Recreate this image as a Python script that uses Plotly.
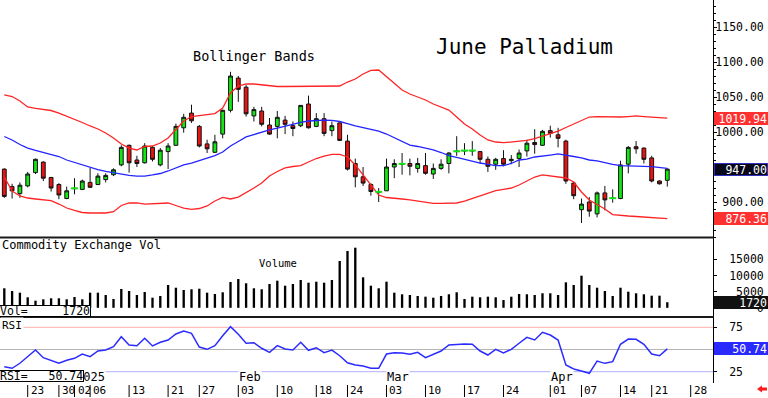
import plotly.graph_objects as go
import pandas as pd

# ---------------- data ----------------
holidays = ["2024-12-25", "2025-01-01", "2025-01-20", "2025-02-17", "2025-04-18"]
calendar = [d.strftime("%Y-%m-%d") for d in pd.bdate_range("2024-12-18", "2025-04-30")
            if d.strftime("%Y-%m-%d") not in holidays]

open_ = [947, 922, 912, 923, 942, 957, 935, 925, 905, 919, 918, 928, 925, 932, 939, 953, 981, 960, 956, 978,
         953, 972, 981, 1006, 1027, 1008, 983, 971, 997, 1031, 1077, 1064, 1023, 1030, 1010, 1008, 1017, 1009, 1009, 1040,
         1008, 1019, 1002, 1013, 987, 955, 936, 925, 914, 916, 950, 954, 955, 948, 952, 940, 948, 955, 972, 973,
         973, 972, 961, 954, 962, 959, 962, 973, 985, 981, 1002, 996, 987, 927, 889, 900, 883, 913, 905, 905,
         954, 979, 977, 963, 930, 931]
high = [948, 926, 928, 943, 962, 958, 936, 927, 922, 934, 932, 949, 941, 941, 948, 981, 982, 966, 984, 980,
        977, 984, 1012, 1026, 1039, 1010, 989, 996, 1032, 1086, 1080, 1067, 1036, 1036, 1020, 1030, 1023, 1015, 1038, 1052,
        1027, 1027, 1015, 1014, 996, 962, 950, 927, 920, 962, 961, 970, 962, 963, 970, 955, 961, 971, 994, 984,
        987, 973, 965, 963, 974, 967, 975, 989, 1004, 1003, 1009, 1006, 989, 929, 905, 907, 915, 923, 918, 959,
        980, 987, 978, 966, 931, 948]
low = [906, 905, 906, 921, 940, 930, 915, 904, 904, 911, 917, 920, 924, 928, 937, 951, 942, 950, 955, 958,
       951, 947, 980, 999, 1013, 978, 970, 970, 991, 1028, 1043, 1022, 1015, 1008, 996, 991, 997, 994, 1007, 1005,
       1007, 994, 994, 987, 945, 921, 923, 909, 900, 916, 934, 939, 938, 942, 939, 933, 946, 941, 966, 967,
       966, 955, 943, 946, 951, 954, 950, 965, 969, 980, 992, 978, 926, 904, 870, 879, 878, 888, 899, 904,
       941, 969, 955, 928, 925, 922]
close = [908, 916, 924, 940, 961, 934, 920, 910, 916, 919.5, 930, 921, 937, 938, 946, 978, 956, 955, 980, 961,
         974, 980, 1008, 1021, 1016, 980, 976, 986, 1031, 1080, 1061, 1026, 1032, 1011, 997, 1021, 1011, 1005, 1038, 1006,
         1019, 998, 1009, 988, 947, 936, 927, 915, 914.5, 950, 955, 954.5, 951, 955, 941, 948, 954, 970, 972.5, 973.5,
         973.5, 961, 951, 961, 954, 961, 970, 984, 982, 1001, 998, 991, 930, 909, 897, 887, 913, 903, 905.5, 953,
         978, 976, 961, 930, 926, 947]

bb_upper = [1052.9, 1050.7, 1044.3, 1035.7, 1033.6, 1032.1, 1030.7, 1027.1, 1022.9, 1017.9, 1013.6, 1008.6, 1004.3, 998.6,
            991.4, 982.9, 977.1, 974.3, 979.3, 980.0, 984.3, 991.4, 1004.3, 1015.7, 1022.1, 1023.6, 1025.0, 1026.4,
            1034.3, 1055.7, 1065.7, 1068.6, 1068.6, 1067.1, 1065.7, 1065.0, 1065.0, 1065.0, 1065.7, 1065.7, 1065.7,
            1065.7, 1065.7, 1065.7, 1071.4, 1075.7, 1082.9, 1087.9, 1088.6, 1078.6, 1068.6, 1060.0, 1054.3, 1050.0,
            1045.7, 1040.0, 1035.7, 1031.4, 1021.4, 1011.4, 1004.3, 995.7, 988.6, 985.7, 984.7, 985.7, 987.1, 987.9,
            990.7, 994.3, 998.6, 1001.4, 1006.4, 1011.4, 1017.1, 1021.4, 1021.9, 1021.4, 1021.0, 1021.4, 1022.1,
            1022.9, 1022.1, 1021.4, 1020.4, 1019.94]
bb_middle = [993.6, 988.6, 982.1, 977.1, 973.6, 970.7, 968.6, 965.0, 960.0, 956.4, 952.9, 949.3, 946.4, 943.6, 941.4,
             939.3, 937.9, 937.1, 937.1, 938.6, 940.7, 944.3, 948.6, 952.9, 955.7, 959.3, 962.9, 966.4, 971.4, 980.0,
             986.4, 992.9, 996.4, 1000.0, 1002.9, 1005.7, 1008.6, 1011.4, 1013.6, 1015.7, 1016.4, 1017.1, 1016.7,
             1015.0, 1012.1, 1008.6, 1006.4, 1004.3, 1001.4, 997.1, 992.1, 987.1, 981.4, 979.3, 977.1, 974.3, 970.7,
             966.4, 963.6, 960.7, 958.6, 955.7, 953.6, 952.1, 952.1, 955.0, 960.0, 961.4, 964.3, 966.1, 967.1, 968.6,
             967.1, 965.0, 962.9, 960.0, 958.6, 955.7, 953.6, 951.9, 951.9, 951.9, 951.0, 950.4, 949.3, 948.1]
bb_lower = [935.7, 915.7, 908.6, 905.7, 904.3, 902.9, 901.9, 897.1, 891.4, 887.9, 885.0, 884.3, 883.9, 884.3, 886.1,
            895.0, 898.6, 898.6, 897.1, 897.9, 898.6, 898.6, 895.0, 891.4, 889.6, 890.7, 894.3, 901.4, 906.7, 904.3,
            907.1, 913.3, 920.0, 927.1, 937.1, 943.6, 948.6, 950.7, 952.1, 957.1, 962.1, 965.7, 968.1, 967.9, 964.3,
            952.9, 938.6, 925.7, 910.0, 906.4, 905.7, 904.3, 902.9, 901.4, 899.3, 898.1, 897.9, 898.1, 898.6, 901.4,
            905.0, 908.6, 912.9, 916.4, 918.1, 920.0, 924.3, 930.0, 935.7, 938.6, 937.1, 936.0, 934.3, 928.6, 914.3,
            902.9, 896.4, 890.0, 882.1, 880.7, 880.0, 879.3, 878.6, 877.6, 876.7, 876.36]

volume = [6040, 5200, 4680, 3250, 2200, 2630, 2940, 2940, 2630, 3340, 2630, 4680, 4680, 3960, 2720, 5820, 5200, 3960,
          4890, 3130, 3650, 7060, 6220, 5510, 5730, 5910, 4680, 4270, 4800, 7990, 8920, 7590, 6040, 5730, 7370, 8390,
          6840, 7370, 8610, 7770, 8080, 7770, 8610, 14490, 17590, 18610, 9440, 6840, 6040, 8080, 4680, 4180, 3960,
          3650, 3440, 3130, 3650, 4180, 4800, 2720, 3440, 3250, 3440, 3250, 2410, 3440, 4270, 4180, 3960, 4490, 4490,
          3960, 7890, 7060, 9940, 7060, 6220, 5200, 3650, 6220, 4990, 4490, 4180, 3750, 3750, 1720]

rsi = [30.6, 28.8, 34.5, 41.9, 49.4, 40.8, 37.8, 34.5, 37.8, 40.1, 44.9, 41.9, 48.3, 49.4, 53.2, 64.4, 55.1, 54.3,
       62.6, 54.0, 58.1, 60.7, 67.5, 70.8, 68.2, 52.8, 50.2, 54.3, 65.5, 75.7, 67.1, 57.0, 57.7, 51.4, 46.8, 54.3,
       50.6, 49.4, 58.1, 49.1, 52.0, 46.4, 49.4, 43.0, 35.1, 32.5, 31.4, 28.8, 28.8, 44.9, 46.4, 46.1, 44.6, 46.8,
       40.8, 44.6, 48.3, 55.1, 55.9, 56.2, 55.9, 48.3, 43.8, 50.2, 46.1, 50.2, 57.0, 63.7, 60.7, 69.4, 66.3, 60.7,
       32.5, 28.0, 25.8, 23.2, 37.0, 34.4, 36.3, 55.9, 61.8, 61.5, 55.9, 44.9, 43.0, 50.74]

tick_dates = ["2024-12-23", "2024-12-30", "2025-01-02", "2025-01-06", "2025-01-13", "2025-01-21", "2025-01-27",
              "2025-02-03", "2025-02-10", "2025-02-18", "2025-02-24", "2025-03-03", "2025-03-10", "2025-03-17",
              "2025-03-24", "2025-04-01", "2025-04-07", "2025-04-14", "2025-04-21", "2025-04-28"]
month_dates = ["2025-01-02", "2025-02-03", "2025-03-03", "2025-04-01"]
month_labels = ["2025", "Feb", "Mar", "Apr"]

price_ticks = [900, 1000, 1050, 1100, 1150]
volume_ticks = [0, 5000, 10000, 15000]
rsi_ticks = [25, 75]
rsi_levels = [75, 50, 25]

# ---------------- layout helpers ----------------
W, H = 768, 398
MONO = "DejaVu Sans Mono"
NB = "\u00a0"


def px(v):
    return v / W


def py(v):
    return 1 - v / H


n = len(close)
dates = calendar[:n]
xs = [calendar.index(d) for d in dates]
x_right = 713

fig = go.Figure()

fig.add_trace(go.Scatter(x=xs, y=bb_upper, mode="lines", line=dict(color="#ff2424", width=1.3),
                         xaxis="x", yaxis="y", hoverinfo="skip"))
fig.add_trace(go.Scatter(x=xs, y=bb_lower, mode="lines", line=dict(color="#ff2424", width=1.3),
                         xaxis="x", yaxis="y", hoverinfo="skip"))
fig.add_trace(go.Scatter(x=xs, y=bb_middle, mode="lines", line=dict(color="#2424ff", width=1.3),
                         xaxis="x", yaxis="y", hoverinfo="skip"))

fig.add_trace(go.Candlestick(
    x=xs, open=open_, high=high, low=low, close=close, xaxis="x", yaxis="y",
    increasing=dict(fillcolor="#14e614", line=dict(color="#111111", width=1)),
    decreasing=dict(fillcolor="#e61414", line=dict(color="#111111", width=1)),
    whiskerwidth=0))

doji = [i for i in range(n) if abs(close[i] - open_[i]) < 1]
fig.add_trace(go.Scatter(x=[xs[i] for i in doji], y=[close[i] for i in doji], mode="markers",
                         marker=dict(symbol="line-ew", size=5, line=dict(width=2, color="#14e614")),
                         xaxis="x", yaxis="y", hoverinfo="skip"))

fig.add_trace(go.Bar(x=xs, y=volume, width=0.3, marker=dict(color="black", line=dict(width=0)),
                     xaxis="x", yaxis="y2"))

fig.add_trace(go.Scatter(x=xs, y=rsi, mode="lines", line=dict(color="#2b2bff", width=1.5),
                         xaxis="x", yaxis="y3"))

tickfont = dict(family=MONO, size=11.5, color="black")
common_y = dict(side="right", anchor="x", showline=True, linecolor="black", linewidth=1, showgrid=False,
                zeroline=False, ticks="outside", ticklen=3, tickcolor="black", tickfont=tickfont,
                ticklabelstandoff=-4, automargin=False)

fig.update_layout(
    width=W, height=H, margin=dict(l=0, r=0, t=0, b=0, autoexpand=False),
    paper_bgcolor="white", plot_bgcolor="white", showlegend=False,
    xaxis=dict(domain=[0, px(x_right)], range=[-0.551, 90.86], visible=False,
               rangeslider=dict(visible=False), anchor="y3"),
    yaxis=dict(domain=[py(237), 1], range=[850, 1188.57],
               tickvals=price_ticks,
               ticktext=[f"{v:.2f}".rjust(7, NB) for v in price_ticks],
               minor=dict(tickmode="linear", tick0=0, dtick=10, ticks="outside", ticklen=2,
                          tickcolor="black", showgrid=False), **common_y),
    yaxis2=dict(domain=[py(317), py(238)], range=[-2850, 21610],
                tickvals=volume_ticks, ticktext=[str(v).rjust(7, NB) for v in volume_ticks], **common_y),
    yaxis3=dict(domain=[py(383), py(318)], range=[12.27, 85.47],
                tickvals=rsi_ticks, ticktext=[NB * 2 + str(v) for v in rsi_ticks], **common_y),
)

shapes = []
# RSI reference levels
for lvl, col in zip(rsi_levels, ["#ffb0b0", "#b4b4b4", "#b0b0ff"]):
    shapes.append(dict(type="line", xref="paper", yref="y3", x0=0, x1=px(x_right), y0=lvl, y1=lvl,
                       line=dict(color=col, width=1), layer="below"))
# panel separators
for yy in (237.5, 317):
    shapes.append(dict(type="line", xref="paper", yref="paper", x0=0, x1=px(x_right + 1), y0=py(yy), y1=py(yy),
                       line=dict(color="#1a1a1a", width=2)))
# date ticks
for d in tick_dates:
    xi = calendar.index(d)
    shapes.append(dict(type="line", xref="x", yref="paper", x0=xi, x1=xi, y0=py(385), y1=py(397),
                       line=dict(color="black", width=1)))
# small red arrow bottom right
pts = [(757, 389), (762, 385.5), (762, 387.6), (767, 387.6), (767, 390.4), (762, 390.4), (762, 392.5)]
path = "M " + " L ".join(f"{px(a):.5f},{py(b):.5f}" for a, b in pts) + " Z"
shapes.append(dict(type="path", xref="paper", yref="paper", path=path, fillcolor="#ff1a1a",
                   line=dict(width=0)))

ann = []
ann.append(dict(text="June Palladium", x=px(524), y=py(47), xref="paper", yref="paper",
                showarrow=False, xanchor="center", yanchor="middle", font=dict(family=MONO, size=21, color="black")))
ann.append(dict(text="Bollinger Bands", x=px(254), y=py(56), xref="paper", yref="paper",
                showarrow=False, xanchor="center", yanchor="middle", font=dict(family=MONO, size=13.5, color="black")))
ann.append(dict(text="Commodity Exchange Vol", x=0, y=py(245), xref="paper", yref="paper",
                showarrow=False, xanchor="left", yanchor="middle", font=dict(family=MONO, size=12, color="black")))
ann.append(dict(text="Volume", x=px(277.5), y=py(262.5), xref="paper", yref="paper",
                showarrow=False, xanchor="center", yanchor="middle", font=dict(family=MONO, size=10.5, color="black")))
ann.append(dict(text="RSI", x=0, y=py(325), xref="paper", yref="paper", bgcolor="white",
                showarrow=False, xanchor="left", yanchor="middle", font=dict(family=MONO, size=11, color="black")))

for d in tick_dates:
    ann.append(dict(text=d[-2:], x=calendar.index(d), y=py(390.5), xref="x", yref="paper", xshift=1,
                    showarrow=False, xanchor="left", yanchor="middle", font=dict(family=MONO, size=11, color="black")))
for d, lab in zip(month_dates, month_labels):
    ann.append(dict(text=lab, x=calendar.index(d), y=py(377), xref="x", yref="paper", bgcolor="white",
                    showarrow=False, xanchor="left", yanchor="middle", borderpad=0,
                    font=dict(family=MONO, size=12, color="black")))

# left value boxes
ann.append(dict(text="Vol=" + NB * 5 + f"{volume[-1]}", x=0, y=py(317), xref="paper", yref="paper", xshift=-1,
                showarrow=False, xanchor="left", yanchor="bottom", bgcolor="white", bordercolor="black",
                borderwidth=1, borderpad=0, height=10, font=dict(family=MONO, size=11.5, color="black")))
ann.append(dict(text="RSI=" + NB * 3 + f"{rsi[-1]:.2f}", x=0, y=py(370), xref="paper", yref="paper", xshift=-1,
                showarrow=False, xanchor="left", yanchor="top", bgcolor="white", bordercolor="black",
                borderwidth=1, borderpad=0, height=10, font=dict(family=MONO, size=11.5, color="black")))


# right last-value boxes
def valbox(text, yval, yref, bg, border=None):
    return dict(text=text, x=1, y=yval, xref="paper", yref=yref, showarrow=False, xanchor="right",
                yanchor="middle", align="right", width=52, height=11, bgcolor=bg,
                bordercolor=border or bg, borderwidth=1, borderpad=0,
                font=dict(family=MONO, size=11.5, color="white"))


ann.append(valbox(f"{bb_upper[-1]:.2f}", bb_upper[-1], "y", "#ff3030"))
ann.append(valbox(f"{close[-1]:.2f}", close[-1], "y", "#08081a", "#3030c0"))
ann.append(valbox(f"{bb_lower[-1]:.2f}", bb_lower[-1], "y", "#ff3030"))
ann.append(valbox(f"{volume[-1]}", volume[-1], "y2", "#111111"))
ann.append(valbox(f"{rsi[-1]:.2f}", rsi[-1], "y3", "#2a2aff"))

fig.update_layout(shapes=shapes, annotations=ann)

fig.write_html("out.html", config={"displayModeBar": False},
               post_script="document.body.style.margin='0px';document.body.style.padding='0px';"
                           "document.body.style.overflow='hidden';")
